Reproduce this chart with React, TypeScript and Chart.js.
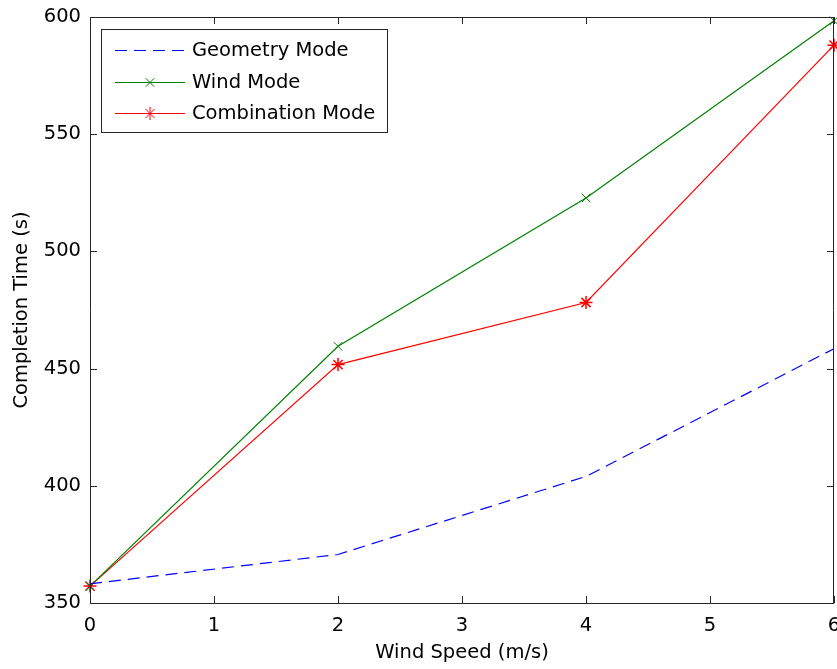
import React, { useEffect, useRef } from "react";
import { Chart, registerables } from "chart.js";

Chart.register(...registerables);

const windSpeeds = [0, 2, 4, 6];
const geometryMode = [358.2, 370.7, 404, 458.5];
const windMode = [357.2, 459.5, 522.8, 598.4];
const combinationMode = [357.2, 451.7, 478.2, 588];
const seriesNames = ["Geometry Mode", "Wind Mode", "Combination Mode"];
const xTicks = [0, 1, 2, 3, 4, 5, 6];
const yTicks = [350, 400, 450, 500, 550, 600];

const FONT = "DejaVu Sans";
const PLOT_RIGHT_GAP = 3;

const framePlugin = {
  id: "frame",
  afterLayout(chart: any) {
    const xs = chart.scales.x;
    const r = chart.width - PLOT_RIGHT_GAP;
    chart.chartArea.right = r;
    chart.chartArea.width = r - chart.chartArea.left;
    xs.right = r;
    xs.width = r - xs.left;
    xs.configure();
  },
  afterDatasetsDraw(chart: any) {
    const { ctx, chartArea } = chart;
    const { left, right, top, bottom } = chartArea;
    const xs = chart.scales.x;
    const ys = chart.scales.y;
    ctx.save();
    ctx.strokeStyle = "#262626";
    ctx.lineWidth = 1;
    ctx.beginPath();
    ctx.rect(Math.round(left) + 0.5, Math.round(top) + 0.5, Math.round(right - left) - 1, Math.round(bottom - top));
    ctx.stroke();
    const tl = 7;
    ctx.beginPath();
    xTicks.forEach((v) => {
      const px = Math.round(xs.getPixelForValue(v)) + 0.5;
      ctx.moveTo(px, bottom);
      ctx.lineTo(px, bottom - tl);
      ctx.moveTo(px, top);
      ctx.lineTo(px, top + tl);
    });
    yTicks.forEach((v) => {
      const py = Math.round(ys.getPixelForValue(v)) + 0.5;
      ctx.moveTo(left, py);
      ctx.lineTo(left + tl, py);
      ctx.moveTo(right, py);
      ctx.lineTo(right - tl, py);
    });
    ctx.stroke();

    ctx.fillStyle = "#000000";
    ctx.font = `19.5px "${FONT}"`;
    ctx.textAlign = "center";
    ctx.textBaseline = "alphabetic";
    xTicks.forEach((v) => {
      ctx.fillText(String(v), xs.getPixelForValue(v), bottom + 28);
    });

    const bx = 101.5, by = 29.5, bw = 286, bh = 103;
    ctx.fillStyle = "#ffffff";
    ctx.fillRect(bx, by, bw, bh);
    ctx.strokeStyle = "#262626";
    ctx.strokeRect(bx, by, bw, bh);
    const rowsY = [50, 82, 113];
    chart.data.datasets.forEach((ds: any, i: number) => {
      const y = rowsY[i] + 0.5;
      ctx.strokeStyle = ds.borderColor;
      ctx.lineWidth = 1;
      ctx.setLineDash(ds.borderDash || []);
      ctx.beginPath();
      ctx.moveTo(115, y);
      ctx.lineTo(185, y);
      ctx.stroke();
      ctx.setLineDash([]);
      const cx = 150, r = ds.pointRadius;
      if (ds.pointStyle === "crossRot" || ds.pointStyle === "star") {
        const o = r * Math.SQRT1_2;
        ctx.beginPath();
        ctx.moveTo(cx - o, y - o); ctx.lineTo(cx + o, y + o);
        ctx.moveTo(cx - o, y + o); ctx.lineTo(cx + o, y - o);
        if (ds.pointStyle === "star") {
          ctx.moveTo(cx - r, y); ctx.lineTo(cx + r, y);
          ctx.moveTo(cx, y - r); ctx.lineTo(cx, y + r);
        }
        ctx.stroke();
      }
      ctx.fillStyle = "#000000";
      ctx.font = `19.5px "${FONT}"`;
      ctx.textBaseline = "middle";
      ctx.textAlign = "left";
      ctx.fillText(ds.label, 192, rowsY[i] + 1);
    });
    ctx.restore();
  },
};

const zeroPad = () => ({ left: 0, right: 0, top: 0, bottom: 0 });

export default function App() {
  const ref = useRef<HTMLCanvasElement>(null);
  useEffect(() => {
    document.body.style.margin = "0";
    document.body.style.overflow = "hidden";
    const mk = (vals: number[]) => windSpeeds.map((x, i) => ({ x, y: vals[i] }));
    const chart = new Chart(ref.current!, {
      type: "line",
      data: {
        datasets: [
          {
            label: seriesNames[0],
            data: mk(geometryMode),
            borderColor: "#0000ff",
            borderWidth: 1.2,
            borderDash: [12, 7],
            pointRadius: 0,
            pointStyle: false as any,
          },
          {
            label: seriesNames[1],
            data: mk(windMode),
            borderColor: "#008000",
            borderWidth: 1.2,
            pointStyle: "crossRot",
            pointRadius: 6,
            pointBorderWidth: 1,
            pointBorderColor: "#008000",
          },
          {
            label: seriesNames[2],
            data: mk(combinationMode),
            borderColor: "#ff0000",
            borderWidth: 1.2,
            pointStyle: "star",
            pointRadius: 6.5,
            pointBorderWidth: 1.5,
            pointBorderColor: "#ff0000",
          },
        ],
      },
      options: {
        responsive: false,
        animation: false,
        clip: false as any,
        layout: { padding: { top: 17, right: 3, left: 0, bottom: 0 } },
        plugins: { legend: { display: false }, tooltip: { enabled: false } },
        elements: { line: { tension: 0 } },
        scales: {
          x: {
            type: "linear",
            min: 0,
            max: 6,
            afterBuildTicks: (s: any) => { s.ticks = xTicks.map((v) => ({ value: v })); },
            afterFit: (s: any) => {
              s.height = 66; s.paddingLeft = 0; s.paddingRight = 0; s.getPadding = zeroPad;
            },
            grid: { display: false, drawTicks: false },
            border: { display: false },
            ticks: { display: false },
            title: { display: true, text: "Wind Speed (m/s)", color: "#000", font: { family: FONT, size: 19.5 }, padding: { top: 0, bottom: 4 } },
          },
          y: {
            type: "linear",
            min: 350,
            max: 600,
            afterBuildTicks: (s: any) => { s.ticks = yTicks.map((v) => ({ value: v })); },
            afterFit: (s: any) => {
              s.width = 90; s.paddingTop = 0; s.paddingBottom = 0; s.getPadding = zeroPad;
            },
            grid: { display: false, drawTicks: false },
            border: { display: false },
            ticks: { color: "#000", font: { family: FONT, size: 19.5 }, padding: 9 },
            title: { display: true, text: "Completion Time (s)", color: "#000", font: { family: FONT, size: 19.5 }, padding: { top: 10, bottom: 0 } },
          },
        },
      },
      plugins: [framePlugin],
    });
    return () => chart.destroy();
  }, []);
  return (
    <div style={{ width: 837, height: 669, background: "#fff", overflow: "hidden" }}>
      <canvas ref={ref} width={837} height={669} style={{ display: "block" }} />
    </div>
  );
}
